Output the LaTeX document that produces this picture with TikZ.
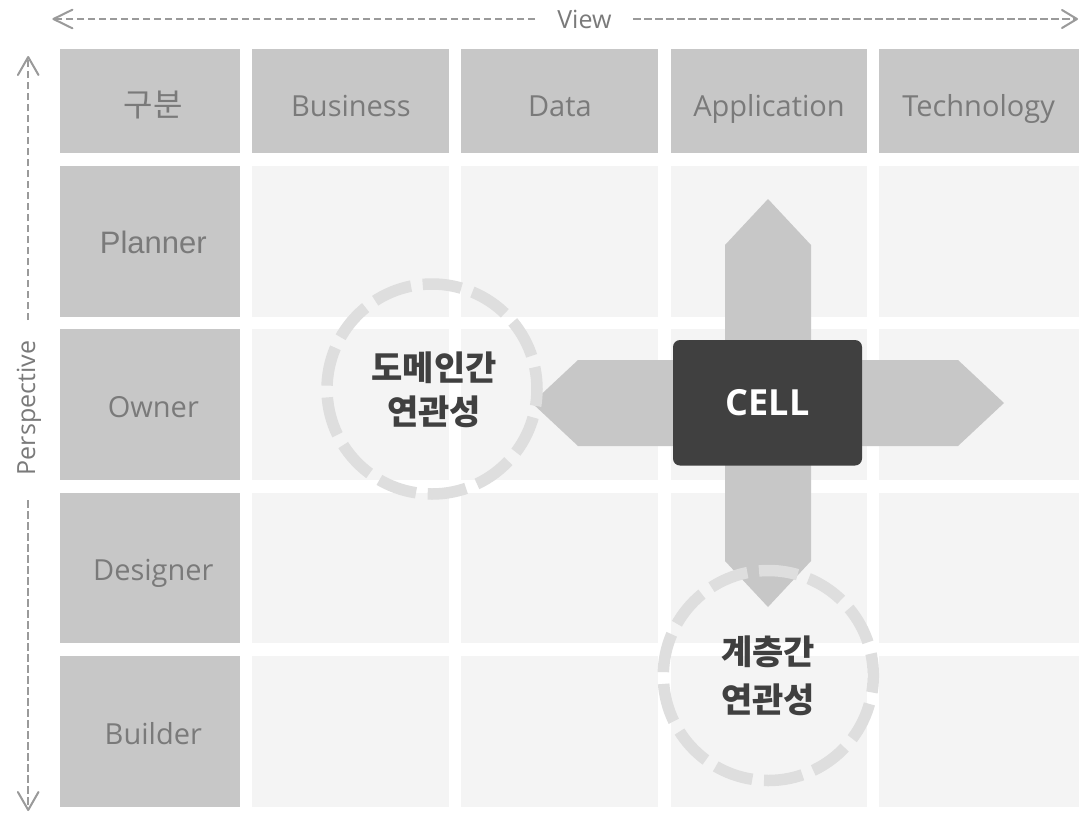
\documentclass[tikz,border=0pt]{standalone}
\usepackage{fontspec}
\setmainfont{Open Sans}
\newfontfamily\krfont{Noto Sans CJK KR}
\newfontfamily\arialfont{Liberation Sans}
\usetikzlibrary{calc}
\definecolor{cellgray}{HTML}{C7C7C7}
\definecolor{celllight}{HTML}{F4F4F4}
\definecolor{txtgray}{HTML}{7A7A7A}
\definecolor{darkbox}{HTML}{404040}
\definecolor{ringgray}{HTML}{DEDEDE}
\definecolor{axisgray}{HTML}{9A9A9A}
\tikzset{
  hdrcell/.style={fill=cellgray},
  empcell/.style={fill=celllight},
  lbl/.style={text=txtgray,font=\fontsize{29}{34}\selectfont,anchor=base,inner sep=0pt},
  axislbl/.style={text=txtgray,font=\fontsize{25}{30}\selectfont,anchor=base,inner sep=0pt},
  axisline/.style={draw=axisgray,line width=1.6pt,dash pattern=on 7.5pt off 3.5pt},
  axishead/.style={draw=axisgray,line width=2pt,line cap=round,line join=round},
  ring/.style={draw=ringgray,line width=11.5pt,dash pattern=on 39pt off 11.75pt,dash phase=22pt},
  ringtext/.style={text=darkbox,font=\krfont\bfseries\fontsize{34}{40}\selectfont,inner sep=0pt,anchor=center},
  cellbox/.style={fill=darkbox,rounded corners=7pt,minimum width=189pt,minimum height=125.5pt,inner sep=0pt,text=white,font=\bfseries\fontsize{36}{42}\selectfont}
}
\begin{document}
\begin{tikzpicture}[x=1pt,y=-1pt]
\useasboundingbox (0,0) rectangle (1079,812);
\fill[white] (0,0) rectangle (1079,812);
% header row
\foreach \xa/\xb in {60/240.4,252.4/449.4,461.4/658.3,670.6/867.3,879.3/1079}
  \fill[hdrcell] (\xa,49.3) rectangle (\xb,153.3);
% first column
\foreach \ya/\yb in {165.7/316.7,329/480,492.7/643.3,656/806.7}
  \fill[hdrcell] (60,\ya) rectangle (240.4,\yb);
% empty cells
\foreach \xa/\xb in {252.4/449.4,461.4/658.3,670.6/867.3,879.3/1079}
  \foreach \ya/\yb in {165.7/316.7,329/480,492.7/643.3,656/806.7}
    \fill[empcell] (\xa,\ya) rectangle (\xb,\yb);
% header texts
\node[lbl,font=\krfont\fontsize{32}{36}\selectfont] (hgubun) at (153.3,116.7) {구분};
\node[lbl] (hbus) at (350.9,116.7) {Business};
\node[lbl] (hdata) at (559.9,116.7) {Data};
\node[lbl] (happ) at (769,116.7) {Application};
\node[lbl] (htech) at (978.6,116.7) {Technology};
% row texts
\node[lbl,font=\arialfont\fontsize{31}{36}\selectfont] (rplan) at (153.3,253.3) {Planner};
\node[lbl] (rown) at (153.3,417.5) {Owner};
\node[lbl] (rdes) at (153.3,580.7) {Designer};
\node[lbl] (rbld) at (153.3,744.3) {Builder};
% cross arrow
\fill[cellgray] (725,245) -- (768,199) -- (811,245) -- (811,360) -- (958,360) -- (1004,403)
  -- (958,446) -- (811,446) -- (811,561) -- (768,607) -- (725,561) -- (725,446)
  -- (578,446) -- (532,403) -- (578,360) -- (725,360) -- cycle;
\node[cellbox] (cell) at (767.5,402.75) {CELL};
% rings
\draw[ring] (432,389) circle[radius=105];
\draw[ring] (768.3,675.5) circle[radius=105];
\node[ringtext] (r1a) at (434,367.5) {도메인간};
\node[ringtext] (r1b) at (434,412) {연관성};
\node[ringtext] (r2a) at (768,651.5) {계층간};
\node[ringtext] (r2b) at (768,699.5) {연관성};
% view axis
\node[axislbl] (view) at (584.4,28.3) {View};
\coordinate (vl) at (53.4,19);
\coordinate (vr) at (1077,19);
\coordinate (vla) at (535,19);
\coordinate (vrb) at (633,19);
\draw[axisline] (vla) -- (vl);
\draw[axisline] (vrb) -- (vr);
\draw[axishead] ($(vl)+(19,-9.3)$) -- (vl) -- ($(vl)+(19,9.3)$);
\draw[axishead] ($(vr)+(-15,-9)$) -- (vr) -- ($(vr)+(-15,9)$);
% perspective axis
\node[axislbl,rotate=90] (persp) at (35,408) {Perspective};
\coordinate (pt) at (28.2,57);
\coordinate (pb) at (28.2,810);
\coordinate (pta) at (28.2,320);
\coordinate (pbb) at (28.2,500);
\draw[axisline] (pta) -- (pt);
\draw[axisline] (pbb) -- (pb);
\draw[axishead] ($(pt)+(-10.3,18)$) -- (pt) -- ($(pt)+(10.3,18)$);
\draw[axishead] ($(pb)+(-10.3,-18)$) -- (pb) -- ($(pb)+(10.3,-18)$);
\end{tikzpicture}
\end{document}
